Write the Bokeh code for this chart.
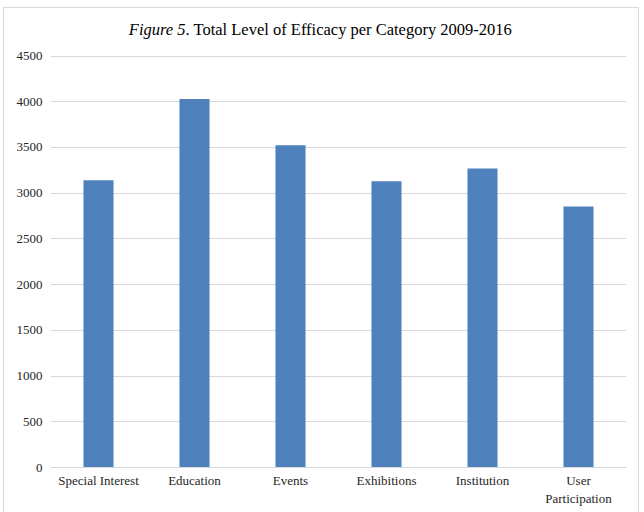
from bokeh.plotting import figure
from bokeh.models import Range1d, FixedTicker, Label
from bokeh.embed import file_html
from bokeh.resources import INLINE

categories = ["Special Interest", "Education", "Events", "Exhibitions", "Institution", "User\nParticipation"]
values = [3140, 4030, 3525, 3130, 3270, 2855]
y_ticks = [0, 500, 1000, 1500, 2000, 2500, 3000, 3500, 4000, 4500]
title_italic = "Figure 5"
title_rest = ". Total Level of Efficacy per Category 2009-2016"

SERIF = "Liberation Serif"
TXT = "#262626"

# frame extends up to hold the title; 4500 stays at the same pixel height
FRAME_H = 459
PX_FOR_MAX = 411.5
y_top = y_ticks[-1] * FRAME_H / PX_FOR_MAX

p = figure(x_range=categories, y_range=Range1d(0, y_top),
           width=636, height=505, output_backend="svg", toolbar_location=None,
           min_border_left=46, min_border_right=14, min_border_top=0, min_border_bottom=46)
p.margin = (7, 0, 0, 3)
p.styles = {"border": "1px solid #d9d9d9", "border-bottom": "none"}
p.outline_line_color = None
p.background_fill_color = "white"
p.border_fill_color = "white"

p.vbar(x=categories, top=values, width=0.313, color="#4f81bd", line_color=None)

p.xgrid.grid_line_color = None
p.ygrid.grid_line_color = "#d9d9d9"
p.ygrid.grid_line_width = 1

p.yaxis.ticker = FixedTicker(ticks=y_ticks)
p.yaxis.axis_line_color = None
p.yaxis.major_tick_line_color = None
p.yaxis.minor_tick_line_color = None
p.yaxis.major_tick_out = 0
p.yaxis.major_tick_in = 0
p.yaxis.major_label_standoff = 8
p.yaxis.major_label_text_font = SERIF
p.yaxis.major_label_text_font_size = "13px"
p.yaxis.major_label_text_color = TXT

p.xaxis.axis_line_color = "#d9d9d9"
p.xaxis.major_tick_line_color = None
p.xaxis.minor_tick_line_color = None
p.xaxis.major_tick_out = 0
p.xaxis.major_tick_in = 0
p.xaxis.major_label_standoff = 5
p.xaxis.major_label_text_font = SERIF
p.xaxis.major_label_text_font_size = "13px"
p.xaxis.major_label_text_color = TXT

p.add_layout(Label(x=135, y=438, x_units="screen", y_units="screen", text=title_italic,
                   text_align="right", text_baseline="alphabetic", text_font=SERIF,
                   text_font_style="italic", text_font_size="16.5px", text_color="black"))
p.add_layout(Label(x=135, y=438, x_units="screen", y_units="screen", text=title_rest,
                   text_align="left", text_baseline="alphabetic", text_font=SERIF,
                   text_font_size="16.5px", text_color="black"))

open("out.html", "w").write(file_html(p, INLINE))
